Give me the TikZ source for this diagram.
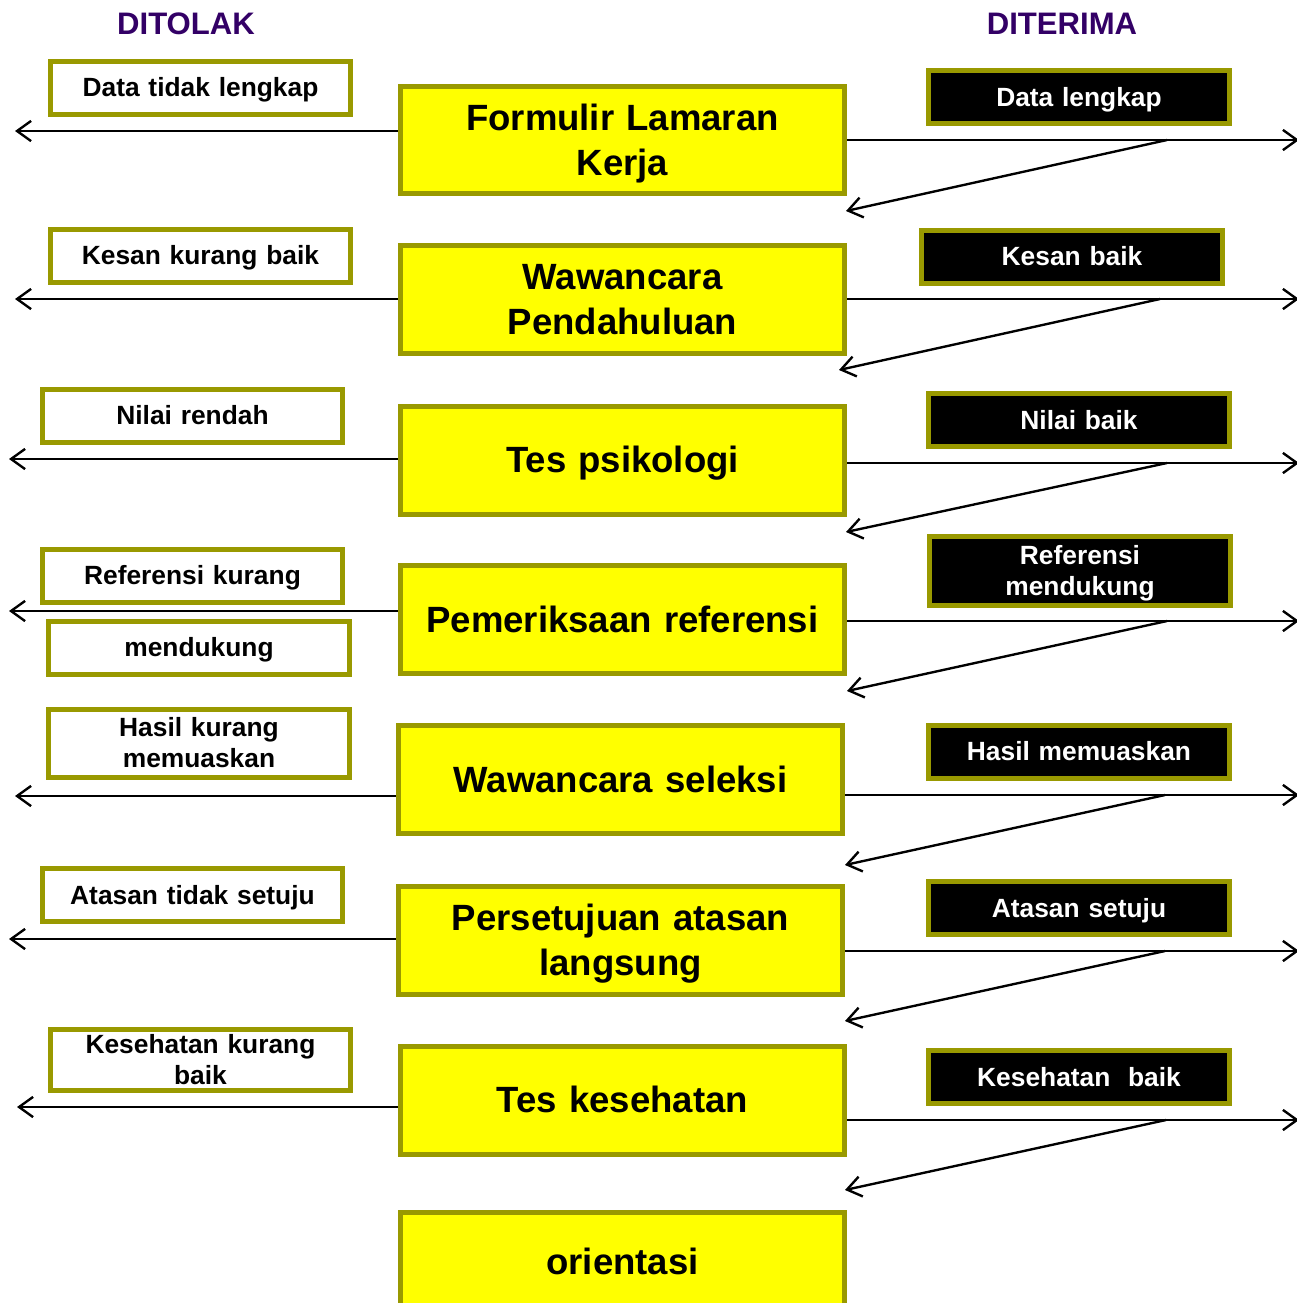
\documentclass[tikz,border=0pt]{standalone}
\usepackage{fontspec}
\setmainfont{Liberation Sans}
\usetikzlibrary{arrows.meta}
\definecolor{boxyellow}{HTML}{FFFF00}
\definecolor{boxolive}{HTML}{999900}
\definecolor{titlepurple}{HTML}{330066}
\tikzset{
  tahap/.style={draw=boxolive,line width=0.1cm,fill=boxyellow,minimum width=8.9cm,minimum height=2.16cm,inner sep=0pt,text width=8.4cm,text centered,text height=18.8pt,text depth=4.4pt,font=\bfseries\fontsize{20.8}{25.5}\selectfont},
  tahapdua/.style={tahap,text depth=29.9pt},
  tolak/.style={draw=boxolive,line width=0.1cm,fill=white,minimum width=6.02cm,minimum height=1.06cm,inner sep=0pt,text width=5.6cm,text centered,text height=13.6pt,text depth=3.2pt,font=\bfseries\fontsize{15}{17.6}\selectfont},
  tolakdua/.style={tolak,text depth=20.8pt},
  terima/.style={tolak,fill=black,text=white},
  terimadua/.style={terima,text depth=20.8pt},
  judul/.style={text=titlepurple,font=\bfseries\fontsize{17.7}{20}\selectfont},
  panah/.style={->,line width=1.35pt}
}
\begin{document}
\begin{tikzpicture}[x=0.02cm,y=-0.02cm,>={Straight Barb[length=8pt,width=11.5pt]}]
    \clip (0,0) rectangle (1297,1303);
    \node[judul] (tol) at (186,24) {DITOLAK};
    \node[judul] (ter) at (1062,24) {DITERIMA};

    \node[tahapdua] (F) at (622.5,140) {Formulir Lamaran\\Kerja};
    \node[tahapdua] (WP) at (622.5,299.5) {Wawancara\\Pendahuluan};
    \node[tahap] (TP) at (622.5,460) {Tes psikologi};
    \node[tahap] (PR) at (622.5,619.5) {Pemeriksaan referensi};
    \node[tahap] (WS) at (620.5,779.5) {Wawancara seleksi};
    \node[tahapdua] (PA) at (620.5,940) {Persetujuan atasan\\langsung};
    \node[tahap] (TK) at (622.5,1100) {Tes kesehatan};
    \node[tahap,minimum height=2cm] (OR) at (622.5,1262) {orientasi};

    \node[tolak] (DT) at (200.5,87.5) {Data tidak lengkap};
    \node[tolak] (KK) at (200.5,255.5) {Kesan kurang baik};
    \node[tolak] (NR) at (192.5,415.5) {Nilai rendah};
    \node[tolak] (RK) at (192.5,575.5) {Referensi kurang};
    \node[tolak] (MD) at (199,647.5) {mendukung};
    \node[tolakdua,minimum height=1.36cm] (HK) at (199,743) {Hasil kurang\\memuaskan};
    \node[tolak] (AT) at (192.5,895) {Atasan tidak setuju};
    \node[tolakdua,minimum height=1.22cm] (KS) at (200.5,1059.5) {Kesehatan kurang\\baik};

    \node[terima] (DL) at (1079,97) {Data lengkap};
    \node[terima] (KB) at (1072,256.5) {Kesan baik};
    \node[terima] (NB) at (1079,420) {Nilai baik};
    \node[terimadua,minimum height=1.38cm] (RM) at (1080,570.5) {Referensi\\mendukung};
    \node[terima] (HM) at (1079,751.5) {Hasil memuaskan};
    \node[terima] (AS) at (1079,908) {Atasan setuju};
    \node[terima] (KH) at (1079,1077) {Kesehatan~ baik};

    \coordinate (l1) at (15,131);
    \coordinate (l2) at (15,299);
    \coordinate (l3) at (9,459);
    \coordinate (l4) at (9,611);
    \coordinate (l5) at (15,796);
    \coordinate (l6) at (9,939);
    \coordinate (l7) at (17,1107);
    \draw[panah] (F.west |- l1) -- (l1);
    \draw[panah] (WP.west |- l2) -- (l2);
    \draw[panah] (TP.west |- l3) -- (l3);
    \draw[panah] (PR.west |- l4) -- (l4);
    \draw[panah] (WS.west |- l5) -- (l5);
    \draw[panah] (PA.west |- l6) -- (l6);
    \draw[panah] (TK.west |- l7) -- (l7);

    \coordinate (r1) at (1299,140);
    \coordinate (r2) at (1299,299);
    \coordinate (r3) at (1299,463);
    \coordinate (r4) at (1299,621);
    \coordinate (r5) at (1299,795);
    \coordinate (r6) at (1299,951);
    \coordinate (r7) at (1299,1120);
    \draw[panah] (F.east |- r1) -- (r1);
    \draw[panah] (WP.east |- r2) -- (r2);
    \draw[panah] (TP.east |- r3) -- (r3);
    \draw[panah] (PR.east |- r4) -- (r4);
    \draw[panah] (WS.east |- r5) -- (r5);
    \draw[panah] (PA.east |- r6) -- (r6);
    \draw[panah] (TK.east |- r7) -- (r7);

    \coordinate (s1) at (1167,140);
    \coordinate (s2) at (1160,299);
    \coordinate (s3) at (1167,463);
    \coordinate (s4) at (1167,621);
    \coordinate (s5) at (1165,795);
    \coordinate (s6) at (1165,951);
    \coordinate (s7) at (1166,1120);
    \draw[panah] (s1) -- (846,211);
    \draw[panah] (s2) -- (839,370);
    \draw[panah] (s3) -- (846,532);
    \draw[panah] (s4) -- (847,691);
    \draw[panah] (s5) -- (845,865);
    \draw[panah] (s6) -- (845,1021);
    \draw[panah] (s7) -- (845,1190);
  \end{tikzpicture}
\end{document}
